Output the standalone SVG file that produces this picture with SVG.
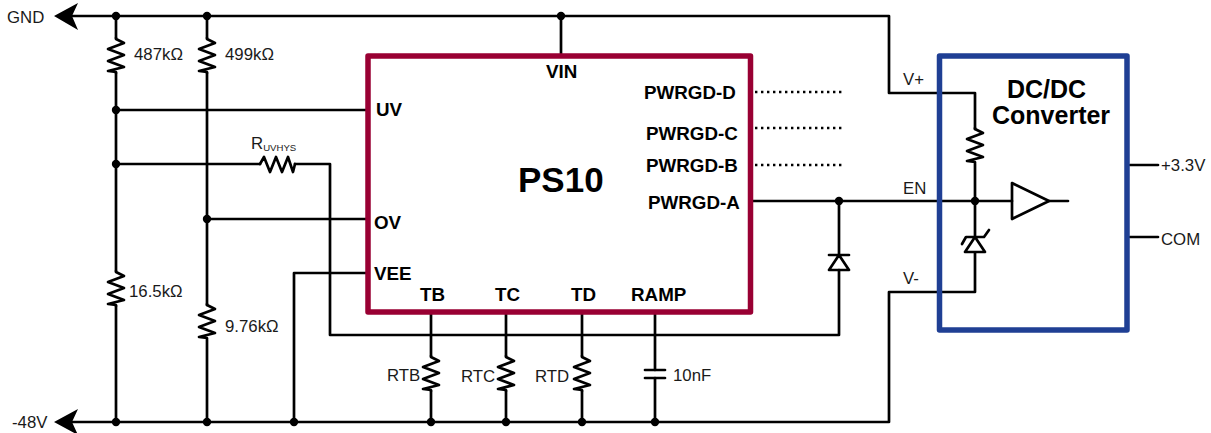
<svg xmlns="http://www.w3.org/2000/svg" width="1211" height="433" viewBox="0 0 1211 433">
<defs>
<style>
.w{fill:none;stroke:#000;stroke-width:2.7;stroke-linejoin:round;stroke-linecap:round}
.d{fill:none;stroke:#000;stroke-width:2.4;stroke-dasharray:2.4 3.6}
.dot{fill:#000}
.box{fill:none;stroke-width:5.5;stroke-linejoin:round}
text{font-family:"Liberation Sans",Arial,sans-serif;fill:#1a1a1a;font-size:16.8px}
.b{font-weight:bold;fill:#000;font-size:18.8px}
.t{font-size:25px;font-weight:bold;fill:#000}
</style>
<path id="rv" class="w" d="M0 0 L0 1 L8 5 L-8 11 L8 17 L-8 23 L8 29 L-8 33 L0 34 L0 35"/>
<circle id="j" class="dot" r="4.2"/>
</defs>
<g id="connectors">
<path class="w" d="M70 16H889V93H975V129M975 164V237M975 253V292H889V422H70"/>
<path class="w" d="M116 16V38M116 73V271M116 306V422M207 16V38M207 73V305M207 340V422"/>
<path class="w" d="M561 16V54M116 110H366M116 164H260M295 164H330V335H839V270M839 255V201M207 219H366M366 273H294V422"/>
<path class="w" d="M752 201H1012M1049 201H1068M431 314V356M431 391V422M506 314V356M506 391V422M582 314V356M582 391V422M655 314V370M655 378V422M1130 165H1158M1130 237H1158"/>
<path class="d" d="M755 92H842M755 128H842M755 165H842"/>
</g>
<g id="arrow-gnd"><path class="dot" d="M54 16L78 3L72 16L78 30Z"/></g>
<g id="arrow-48v"><path class="dot" d="M54 422L78 409L72 422L78 435Z"/></g>
<g id="junctions">
<use href="#j" x="116" y="16"/><use href="#j" x="207" y="16"/><use href="#j" x="561" y="16"/>
<use href="#j" x="116" y="110"/><use href="#j" x="116" y="164"/><use href="#j" x="207" y="219"/>
<use href="#j" x="116" y="422"/><use href="#j" x="207" y="422"/><use href="#j" x="294" y="422"/>
<use href="#j" x="431" y="422"/><use href="#j" x="506" y="422"/><use href="#j" x="582" y="422"/><use href="#j" x="655" y="422"/>
<use href="#j" x="839" y="201"/><use href="#j" x="975" y="201"/>
</g>
<g id="gnd-label"><text x="7" y="23">GND</text></g>
<g id="v48-label"><text x="12" y="428">-48V</text></g>
<g id="r487"><use href="#rv" x="116" y="38"/><text x="134" y="60">487kΩ</text></g>
<g id="r499"><use href="#rv" x="207" y="38"/><text x="225" y="60">499kΩ</text></g>
<g id="r165"><use href="#rv" x="116" y="271"/><text x="129" y="297">16.5kΩ</text></g>
<g id="r976"><use href="#rv" x="207" y="304"/><text x="225" y="332">9.76kΩ</text></g>
<g id="ruvhys">
<path class="w" d="M260 164L264 157L270 172L276 157L282 172L288 157L293 172L295 164"/>
<text x="251" y="149">R<tspan font-size="9.6" dy="2">UVHYS</tspan></text>
</g>
<g id="ps10">
<rect class="box" x="368" y="56" width="382.5" height="256" stroke="#990033"/>
<text x="518" y="192" style="font-size:35px;font-weight:bold;fill:#000">PS10</text>
<text class="b" x="546" y="78">VIN</text>
<text class="b" x="644" y="99">PWRGD-D</text>
<text class="b" x="646" y="140">PWRGD-C</text>
<text class="b" x="646" y="172">PWRGD-B</text>
<text class="b" x="648" y="209">PWRGD-A</text>
<text class="b" x="376" y="116">UV</text>
<text class="b" x="374" y="229">OV</text>
<text class="b" x="374" y="280">VEE</text>
<text class="b" x="420" y="301">TB</text>
<text class="b" x="495" y="301">TC</text>
<text class="b" x="571" y="301">TD</text>
<text class="b" x="631" y="301">RAMP</text>
</g>
<g id="rtb"><use href="#rv" x="431" y="356"/><text x="387" y="381">RTB</text></g>
<g id="rtc"><use href="#rv" x="506" y="356"/><text x="461" y="382">RTC</text></g>
<g id="rtd"><use href="#rv" x="582" y="356"/><text x="535" y="382">RTD</text></g>
<g id="cap"><path class="w" d="M645 370H665M645 378H665"/><text x="673" y="381">10nF</text></g>
<g id="diode"><path class="w" d="M829 255H849M839 255L849 270H829Z"/></g>
<g id="dcdc">
<rect class="box" x="939.5" y="56" width="187.5" height="274" stroke="#1f3f94"/>
<text class="t" x="1007" y="98">DC/DC</text>
<text class="t" x="992" y="124">Converter</text>
<text x="903" y="85">V+</text>
<text x="903" y="194">EN</text>
<text x="903" y="284">V-</text>
<text x="1161" y="171">+3.3V</text>
<text x="1161" y="245">COM</text>
<use href="#rv" x="975" y="128"/>
<path class="w" d="M1012 183L1049 201L1012 219Z"/>
<path class="w" d="M962 244L966 237H984L989 230M975 237L985 252H965Z"/>
</g>
</svg>
